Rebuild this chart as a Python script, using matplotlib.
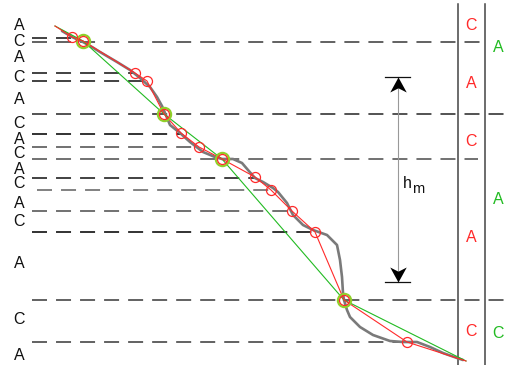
import numpy as np
import matplotlib.pyplot as plt
from matplotlib.path import Path

plt.rcParams['font.family'] = ['Liberation Sans', 'DejaVu Sans']
plt.rcParams['lines.scale_dashes'] = False

# profile (gray), piecewise fit (red) and coarse fit (green), in drawing units
prof_x = [62, 72, 83, 92, 100, 117, 130, 140, 150, 157, 162, 165, 170, 180, 190, 203, 215,
          222, 233, 242, 248, 255, 263, 273, 278, 287, 293, 303, 313, 327, 337, 340, 342,
          343, 344, 347, 350, 360, 373, 390, 403, 417, 430, 443, 457, 463]
prof_y = [31, 37, 42, 47, 52, 62, 70, 78, 87, 97, 106, 113, 125, 133, 142, 152, 157,
          159, 159, 163, 170, 178, 182, 188, 192, 203, 215, 225, 230, 235, 245, 260, 277,
          293, 300, 310, 317, 327, 335, 341, 342, 342, 347, 353, 358, 360]

red_x = [55, 72, 83, 135, 147, 164, 181, 199, 222, 255, 271, 292, 315, 344, 407, 466]
red_y = [26, 37, 41, 73, 81, 114, 133, 147, 159, 177, 190, 211, 232, 300, 342, 361]
red_marked = [1, 2, 3, 4, 5, 6, 7, 8, 9, 10, 11, 12, 13, 14]

green_x = [55, 83, 164, 222, 344, 466]
green_y = [26, 41, 114, 159, 300, 361]
green_marked = [1, 2, 3, 4]

# horizontal dashed levels: y, start, end, colour
level_y = [38, 41.5, 73, 80.5, 114, 133.5, 146.5, 158.5, 177.5, 190, 210.5, 232, 300, 341.5]
level_x0 = [32, 32, 32, 32, 32, 32, 32, 32, 32, 37, 32, 32, 32, 32]
level_x1 = [72, 480, 135, 147, 509, 181, 199, 478, 255, 271, 292, 316, 509, 408]
level_c = ['#333', '#555', '#333', '#333', '#444', '#222', '#666', '#666', '#333', '#777',
           '#666', '#222', '#555', '#555']

left_labels = ['A', 'C', 'A', 'C', 'A', 'C', 'A', 'C', 'A', 'C', 'A', 'C', 'A', 'C', 'A']
left_y = [25, 41, 57, 78, 99, 123, 140, 153, 169, 184, 203, 221, 264, 320, 356]

red_labels = ['C', 'A', 'C', 'A', 'C']
red_lab_y = [25, 83, 141, 237, 332]
green_labels = ['A', 'A', 'C']
green_lab_y = [47, 200, 333]

fig = plt.figure(figsize=(5.09, 3.65), dpi=100)
ax = fig.add_axes([0, 0, 1, 1])
ax.set_xlim(0, 509)
ax.set_ylim(365, 0)
ax.axis('off')

for y, x0, x1, c in zip(level_y, level_x0, level_x1, level_c):
    ax.plot([x0, x1], [y, y], color=c, lw=1.3, dashes=(10.8, 6.5), zorder=1)

# column separators
for x in [458, 485]:
    ax.plot([x, x], [4, 365], color='#444', lw=1.1, zorder=1)

ax.plot(prof_x, prof_y, color='#7a7a7a', lw=1.9, solid_capstyle='round', zorder=2)
ax.plot(green_x, green_y, color='#22bb22', lw=0.8, zorder=3)
ax.plot(red_x, red_y, color='#ff2a2a', lw=0.8, zorder=4)

gx = np.array(green_x)[green_marked]
gy = np.array(green_y)[green_marked]
ax.plot(gx, gy, 'o', ms=9.5, mfc='none', mec='#8fd12a', mew=1.6, zorder=5)
rx = np.array(red_x)[red_marked]
ry = np.array(red_y)[red_marked]
ax.plot(rx, ry, 'o', ms=7.2, mfc='none', mec='#ff2a2a', mew=0.9, zorder=6)

# thickness indicator h_m
ax.plot([398, 398], [77, 282], color='#999', lw=0.8, zorder=1)
for y in [77, 282]:
    ax.plot([385, 410], [y, y], color='#111', lw=0.9)
head = Path([(0, 0), (0.55, -1), (0, -0.72), (-0.55, -1), (0, 0)],
            [Path.MOVETO, Path.LINETO, Path.LINETO, Path.LINETO, Path.CLOSEPOLY])
head_down = Path([(0, 0), (0.55, 1), (0, 0.72), (-0.55, 1), (0, 0)],
                 [Path.MOVETO, Path.LINETO, Path.LINETO, Path.LINETO, Path.CLOSEPOLY])
ax.plot(398, 77, marker=head, ms=21.6, color='black', mew=0)
ax.plot(398, 282, marker=head_down, ms=21.6, color='black', mew=0)
ax.text(403, 188, 'h', fontsize=11.5, color='#111', va='baseline')
ax.text(412.5, 193, 'm', fontsize=10.5, color='#111', va='baseline')

for lab, y in zip(left_labels, left_y):
    ax.text(19, y, lab, fontsize=11.5, color='#111', ha='center', va='center')
for lab, y in zip(red_labels, red_lab_y):
    ax.text(471, y, lab, fontsize=11.5, color='#ff2a2a', ha='center', va='center')
for lab, y in zip(green_labels, green_lab_y):
    ax.text(498, y, lab, fontsize=11.5, color='#22bb22', ha='center', va='center')

fig.savefig('out.png', dpi=100)
